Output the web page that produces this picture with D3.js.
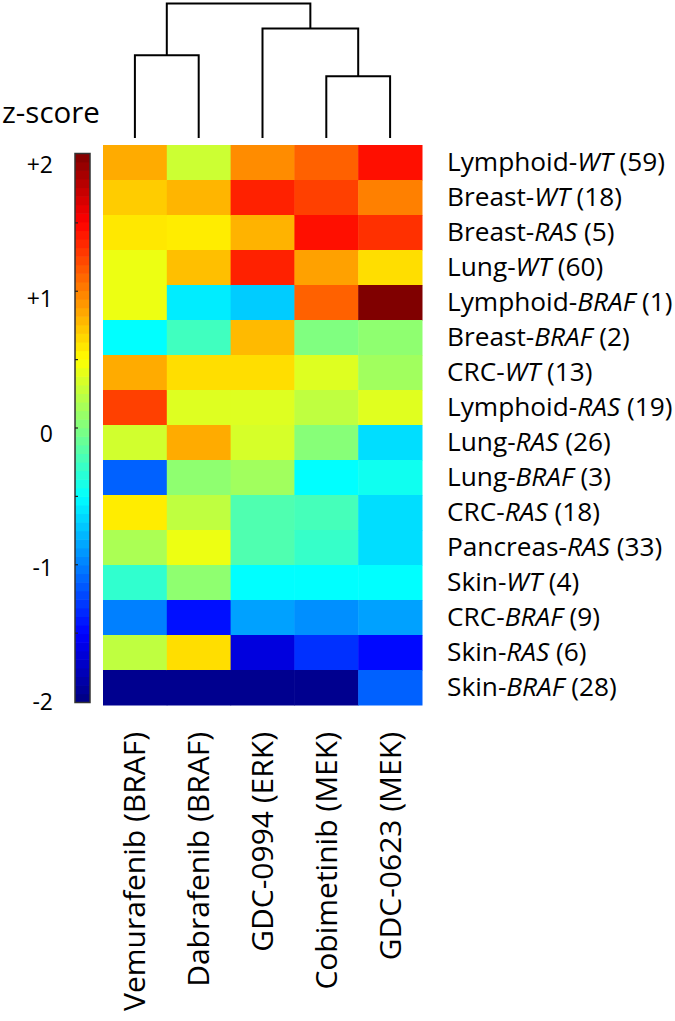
<!DOCTYPE html>
<html>
<head>
<meta charset="utf-8">
<script src="https://cdn.jsdelivr.net/npm/d3@7"></script>
<style>
  html, body { margin: 0; padding: 0; background: #fff; }
  svg { display: block; }
  text { font-family: "Open Sans", sans-serif; fill: #000; }
</style>
</head>
<body>
<svg id="chart" width="675" height="1021"></svg>
<script>
// ---------- DATA ----------
const drugs = ["Vemurafenib (BRAF)", "Dabrafenib (BRAF)", "GDC-0994 (ERK)", "Cobimetinib (MEK)", "GDC-0623 (MEK)"];
const rowTissue = ["Lymphoid", "Breast", "Breast", "Lung", "Lymphoid", "Breast", "CRC", "Lymphoid", "Lung", "Lung", "CRC", "Pancreas", "Skin", "CRC", "Skin", "Skin"];
const rowGenotype = ["WT", "WT", "RAS", "WT", "BRAF", "BRAF", "WT", "RAS", "RAS", "BRAF", "RAS", "RAS", "WT", "BRAF", "RAS", "BRAF"];
const rowCount = [59, 18, 5, 60, 1, 2, 13, 19, 26, 3, 18, 33, 4, 9, 6, 28];
// z-scores, one array per drug (rows in the order above)
const zVemurafenib = [0.83, 0.70, 0.59, 0.43, 0.43, -0.50, 0.83, 1.25, 0.32, -1.12, 0.57, 0.17, -0.31, -1.00, 0.25, -1.94];
const zDabrafenib  = [0.30, 0.79, 0.57, 0.75, -0.57, -0.25, 0.63, 0.37, 0.83, 0.06, 0.25, 0.43, 0.06, -1.44, 0.63, -1.94];
const zGDC0994     = [0.95, 1.37, 0.80, 1.37, -0.70, 0.77, 0.63, 0.37, 0.34, 0.13, -0.19, -0.19, -0.50, -0.87, -1.63, -1.94];
const zCobimetinib = [1.12, 1.25, 1.44, 0.87, 1.12, 0.00, 0.37, 0.25, 0.03, -0.50, -0.23, -0.29, -0.50, -0.94, -1.31, -1.94];
const zGDC0623     = [1.44, 1.00, 1.31, 0.63, 2.00, 0.06, 0.13, 0.38, -0.63, -0.44, -0.63, -0.63, -0.50, -0.87, -1.47, -1.12];
const colorbarTicks = [2, 1, 0, -1, -2];
const colorbarTickLabels = ["+2", "+1", "0", "-1", "-2"];
const colorbarMinorTicks = [1.5, 1, 0.5, 0, -0.5, -1, -1.5];
// column dendrogram (heights relative to root = 1)
const dendro = {
  height: 1.0, children: [
    { height: 0.616, children: [{ leaf: 0 }, { leaf: 1 }] },
    { height: 0.814, children: [{ leaf: 2 }, { height: 0.46, children: [{ leaf: 3 }, { leaf: 4 }] }] }
  ]
};

// ---------- HELPERS ----------
function jet(t) {
  const c = v => Math.max(0, Math.min(1, v));
  const r = c(1.5 - Math.abs(4 * t - 3));
  const g = c(1.5 - Math.abs(4 * t - 2));
  const b = c(1.5 - Math.abs(4 * t - 1));
  return d3.rgb(Math.round(r * 255), Math.round(g * 255), Math.round(b * 255)).formatHex();
}
const zToT = d3.scaleLinear().domain([-2, 2]).range([0, 1]).clamp(true);
const color = z => jet(zToT(z));

const svg = d3.select("#chart");
const cols = [zVemurafenib, zDabrafenib, zGDC0994, zCobimetinib, zGDC0623];

// ---------- SCALES ----------
const x = d3.scaleBand().domain(d3.range(drugs.length)).range([103, 422]);
const y = d3.scaleBand().domain(d3.range(rowTissue.length)).range([145, 705]);

// ---------- HEATMAP ----------
const cells = [];
cols.forEach((arr, ci) => arr.forEach((v, ri) => cells.push({ ci, ri, v })));
svg.append("g").selectAll("rect").data(cells).join("rect")
  .attr("x", d => x(d.ci))
  .attr("y", d => y(d.ri))
  .attr("width", x.bandwidth() + 0.5)
  .attr("height", y.bandwidth() + 0.5)
  .attr("fill", d => color(d.v));

// ---------- ROW LABELS ----------
const rowG = svg.append("g").attr("font-size", 25);
rowTissue.forEach((t, i) => {
  const tx = rowG.append("text")
    .attr("transform", `translate(447,${y(i) + y.bandwidth() / 2}) scale(1.05,1)`)
    .attr("dy", "0.35em");
  tx.append("tspan").text(t + "-");
  tx.append("tspan").attr("font-style", "italic").text(rowGenotype[i]);
  tx.append("tspan").text(" (" + rowCount[i] + ")");
});

// ---------- COLUMN LABELS ----------
svg.append("g").attr("font-size", 30).selectAll("text").data(drugs).join("text")
  .attr("transform", (d, i) => `translate(${x(i) + x.bandwidth() / 2},732) rotate(-90)`)
  .attr("text-anchor", "end")
  .attr("dy", "0.35em")
  .text(d => d);

// ---------- DENDROGRAM ----------
const hScale = d3.scaleLinear().domain([0, 1]).range([138, 3.5]);
const leafX = i => x(i) + x.bandwidth() / 2;
const dg = svg.append("g").attr("fill", "none").attr("stroke", "#000").attr("stroke-width", 2);
function layout(node) {
  if (node.leaf !== undefined) { node.x = leafX(node.leaf); node.h = 0; return node; }
  node.children.forEach(layout);
  node.x = d3.mean(node.children, c => c.x);
  node.h = node.height;
  return node;
}
layout(dendro);
function drawNode(node) {
  if (!node.children) return;
  const [a, b] = node.children;
  const path = d3.path();
  path.moveTo(a.x, hScale(a.h));
  path.lineTo(a.x, hScale(node.h));
  path.lineTo(b.x, hScale(node.h));
  path.lineTo(b.x, hScale(b.h));
  dg.append("path").attr("d", path.toString());
  node.children.forEach(drawNode);
}
drawNode(dendro);

// ---------- COLORBAR ----------
const cb = d3.scaleLinear().domain([-2, 2]).range([701.5, 154.5]);
const cbLabel = d3.scaleLinear().domain([-2, 2]).range([702, 165]);
const cbX = 75, cbW = 15;
const cbTop = 153.5, cbBot = 702.5;
const nLevels = 64;
const levelIdx = d3.range(nLevels);
const lvlY = d3.scaleLinear().domain([0, nLevels]).range([cbBot, cbTop]);
svg.append("g").selectAll("rect").data(levelIdx).join("rect")
  .attr("x", cbX)
  .attr("y", i => lvlY(i + 1) - 0.3)
  .attr("width", cbW)
  .attr("height", lvlY(0) - lvlY(1) + 0.6)
  .attr("fill", i => jet((i + 0.5) / nLevels));
svg.append("rect")
  .attr("x", cbX).attr("y", cbTop).attr("width", cbW).attr("height", cbBot - cbTop)
  .attr("fill", "none").attr("stroke", "#333").attr("stroke-width", 1.5);
svg.append("g").selectAll("line").data(colorbarMinorTicks).join("line")
  .attr("x1", cbX).attr("x2", cbX + 3)
  .attr("y1", d => cb(d)).attr("y2", d => cb(d))
  .attr("stroke", "#222").attr("stroke-width", 1.2);
svg.append("g").attr("font-size", 23).selectAll("text").data(colorbarTicks).join("text")
  .attr("x", 53)
  .attr("y", d => cbLabel(d))
  .attr("dy", "0.35em")
  .attr("text-anchor", "end")
  .text((d, i) => colorbarTickLabels[i]);

// ---------- TITLE ----------
svg.append("text")
  .attr("x", 2).attr("y", 113).attr("dy", "0.35em")
  .attr("font-size", 29.5)
  .text("z-score");
</script>
</body>
</html>
